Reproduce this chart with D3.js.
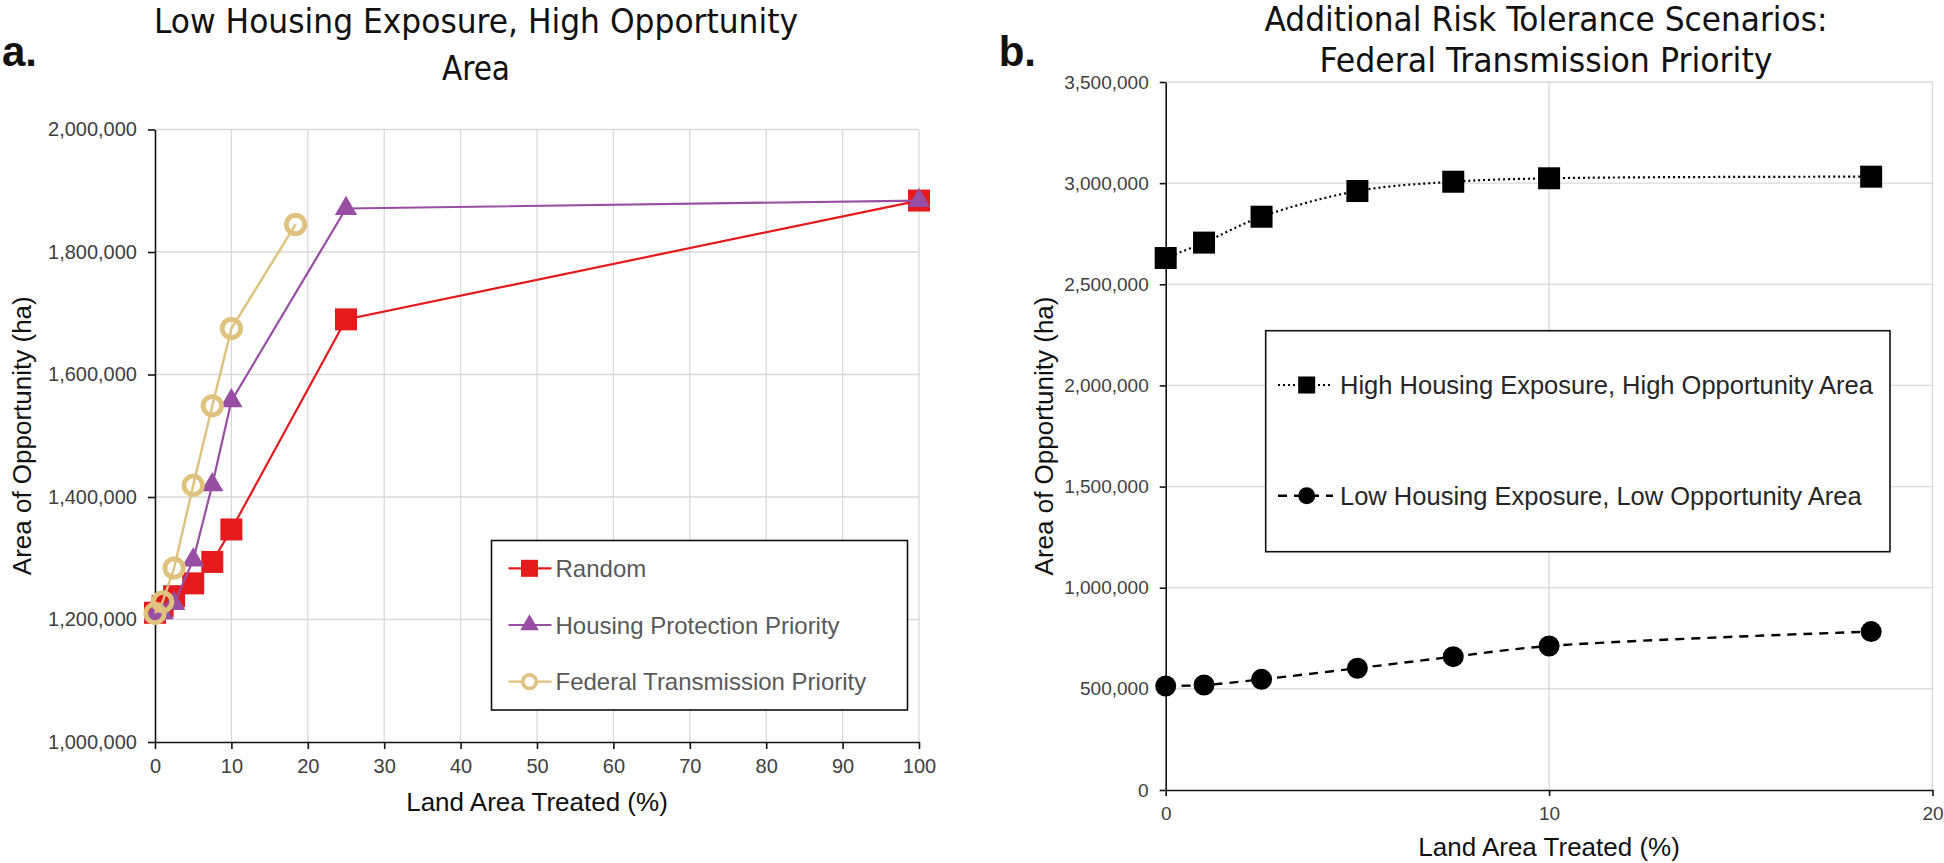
<!DOCTYPE html>
<html>
<head>
<meta charset="utf-8">
<script src="https://cdn.jsdelivr.net/npm/d3@7"></script>
<style>
  body { margin: 0; background: #fff; }
  svg { display: block; }
  text { font-family: "Liberation Sans", Arial, sans-serif; }
  .title { font-family: "Liberation Sans Narrow", "DejaVu Sans Condensed", "Open Sans", sans-serif; }
</style>
</head>
<body>
<svg id="chart" width="1944" height="863"></svg>
<script>
// ---- panel a: Low Housing Exposure, High Opportunity Area ----
const treatedA = [0, 1, 2.5, 5, 7.5, 10, 25, 100];
const randomArea = [1211000, 1222000, 1238000, 1259000, 1294000, 1347000, 1690000, 1884000];
const housingArea = [1208000, 1211000, 1226000, 1297000, 1420000, 1557000, 1871000, 1884000];
const treatedFederal = [0, 1, 2.5, 5, 7.5, 10, 18.4];
const federalArea = [1210000, 1229000, 1284000, 1419000, 1549000, 1675000, 1845000];

// ---- panel b: Federal Transmission Priority scenarios ----
const treatedB = [0, 1, 2.5, 5, 7.5, 10, 18.4];
const highHighArea = [2630000, 2706000, 2834000, 2961000, 3007000, 3024000, 3032000];
const lowLowArea = [514000, 519000, 547000, 602000, 659000, 712000, 783000];

const xTicksA = [0, 10, 20, 30, 40, 50, 60, 70, 80, 90, 100];
const yTicksA = [1000000, 1200000, 1400000, 1600000, 1800000, 2000000];
const xTicksB = [0, 10, 20];
const yTicksB = [0, 500000, 1000000, 1500000, 2000000, 2500000, 3000000, 3500000];

const legendA = ["Random", "Housing Protection Priority", "Federal Transmission Priority"];
const legendB = ["High Housing Exposure, High Opportunity Area", "Low Housing Exposure, Low Opportunity Area"];

const RED = "#e41a1c";
const PURPLE = "#984ea3";
const TAN = "#dfc27d";
const GRID = "#d9d9d9";

const svg = d3.select("#chart");
const fmt = d3.format(",");

function drawFrame(x, y, xTicks, yTicks, opts) {
  const g = svg.append("g");
  const [x0, x1] = x.range();
  const [y0, y1] = y.range();

  // gridlines
  g.selectAll(".hgrid")
    .data(yTicks.slice(1))
    .join("line")
    .attr("x1", x0).attr("x2", x1)
    .attr("y1", d => y(d)).attr("y2", d => y(d))
    .attr("stroke", GRID).attr("stroke-width", 1.3);

  g.selectAll(".vgrid")
    .data(xTicks.slice(1))
    .join("line")
    .attr("x1", d => x(d)).attr("x2", d => x(d))
    .attr("y1", y0).attr("y2", y1)
    .attr("stroke", GRID).attr("stroke-width", 1.3);

  const yAxis = g.append("g")
    .attr("transform", `translate(${x0},0)`)
    .call(d3.axisLeft(y).tickValues(yTicks).tickFormat(fmt)
      .tickSize(opts.tickSize).tickSizeOuter(0).tickPadding(opts.yPad));

  const xAxis = g.append("g")
    .attr("transform", `translate(0,${y0})`)
    .call(d3.axisBottom(x).tickValues(xTicks).tickFormat(d3.format("d"))
      .tickSize(opts.tickSize).tickSizeOuter(0).tickPadding(opts.xPad));

  [xAxis, yAxis].forEach(a => {
    a.select(".domain").attr("stroke", "#111").attr("stroke-width", 1.6);
    a.selectAll(".tick line").attr("stroke", "#111").attr("stroke-width", 1.6);
    a.selectAll(".tick text")
      .attr("fill", opts.tickColor)
      .style("font-size", opts.tickFont + "px")
      .style("font-family", '"Liberation Sans", Arial, sans-serif');
  });

  // axis titles
  svg.append("text")
    .attr("x", (x0 + x1) / 2)
    .attr("y", opts.xTitleY)
    .attr("text-anchor", "middle")
    .attr("fill", "#111")
    .style("font-size", "26px")
    .text("Land Area Treated (%)");

  svg.append("text")
    .attr("transform", `translate(${opts.yTitleX},${(y0 + y1) / 2}) rotate(-90)`)
    .attr("text-anchor", "middle")
    .attr("fill", "#111")
    .style("font-size", "26px")
    .text("Area of Opportunity (ha)");
}

function drawTitle(lines, cx, baselines, lengths) {
  lines.forEach((line, i) => {
    svg.append("text")
      .attr("class", "title")
      .attr("x", cx)
      .attr("y", baselines[i])
      .attr("text-anchor", "middle")
      .attr("textLength", lengths[i])
      .attr("lengthAdjust", "spacingAndGlyphs")
      .attr("fill", "#111")
      .style("font-size", "34px")
      .text(line);
  });
}

// ================= panel a =================
const xA = d3.scaleLinear().domain([0, 100]).range([155, 919]);
const yA = d3.scaleLinear().domain([1000000, 2000000]).range([742, 129.5]);

drawFrame(xA, yA, xTicksA, yTicksA, {
  tickSize: 7, yPad: 11, xPad: 10, tickFont: 20, tickColor: "#404040",
  xTitleY: 811, yTitleX: 31
});

drawTitle(["Low Housing Exposure, High Opportunity", "Area"], 476, [33, 80], [644, 68]);

svg.append("text")
  .attr("x", 2).attr("y", 66)
  .attr("fill", "#111")
  .style("font-size", "42px").style("font-weight", "bold")
  .text("a.");

const lineA = d3.line().x(d => xA(d[0])).y(d => yA(d[1]));
const randomPts = d3.zip(treatedA, randomArea);
const housingPts = d3.zip(treatedA, housingArea);
const federalPts = d3.zip(treatedFederal, federalArea);

const triangle = d3.symbol().type(d3.symbolTriangle);

const gA = svg.append("g");

gA.append("path").datum(randomPts).attr("d", lineA)
  .attr("fill", "none").attr("stroke", RED).attr("stroke-width", 2.2);
gA.selectAll(".sq").data(randomPts).join("rect")
  .attr("x", d => xA(d[0]) - 11).attr("y", d => yA(d[1]) - 11)
  .attr("width", 22).attr("height", 22).attr("fill", RED);

gA.append("path").datum(housingPts).attr("d", lineA)
  .attr("fill", "none").attr("stroke", PURPLE).attr("stroke-width", 2.2);
gA.selectAll(".tri").data(housingPts).join("path")
  .attr("d", triangle.size(215))
  .attr("transform", d => `translate(${xA(d[0])},${yA(d[1])})`)
  .attr("fill", PURPLE);

gA.append("path").datum(federalPts).attr("d", lineA)
  .attr("fill", "none").attr("stroke", TAN).attr("stroke-width", 2.4);
gA.selectAll(".circ").data(federalPts).join("circle")
  .attr("cx", d => xA(d[0])).attr("cy", d => yA(d[1])).attr("r", 9.2)
  .attr("fill", "none").attr("stroke", TAN).attr("stroke-width", 4.8);

// legend a
const legA = svg.append("g");
legA.append("rect")
  .attr("x", 491.5).attr("y", 540.5).attr("width", 416).attr("height", 169.5)
  .attr("fill", "#fff").attr("stroke", "#111").attr("stroke-width", 1.6);

const legAY = [568.3, 625, 681.7];
const legAColors = [RED, PURPLE, TAN];
legendA.forEach((label, i) => {
  const cy = legAY[i];
  legA.append("line")
    .attr("x1", 508.5).attr("x2", 551.5).attr("y1", cy).attr("y2", cy)
    .attr("stroke", legAColors[i]).attr("stroke-width", 2.2);
  if (i === 0) {
    legA.append("rect").attr("x", 521).attr("y", cy - 8.5)
      .attr("width", 17).attr("height", 17).attr("fill", RED);
  } else if (i === 1) {
    legA.append("path").attr("d", triangle.size(150))
      .attr("transform", `translate(529.5,${cy})`).attr("fill", PURPLE);
  } else {
    legA.append("circle").attr("cx", 529.5).attr("cy", cy).attr("r", 6.8)
      .attr("fill", "#fff").attr("stroke", TAN).attr("stroke-width", 3.6);
  }
  legA.append("text")
    .attr("x", 555.5).attr("y", cy).attr("dy", "0.36em")
    .attr("fill", "#595959")
    .style("font-size", "24px")
    .text(label);
});

// ================= panel b =================
const xB = d3.scaleLinear().domain([0, 20]).range([1165.7, 1932.5]);
const yB = d3.scaleLinear().domain([0, 3500000]).range([790, 82]);

drawFrame(xB, yB, xTicksB, yTicksB, {
  tickSize: 6, yPad: 11, xPad: 11, tickFont: 19, tickColor: "#404040",
  xTitleY: 856, yTitleX: 1053
});

drawTitle(["Additional Risk Tolerance Scenarios:", "Federal Transmission Priority"], 1546, [31, 72], [563, 453]);

svg.append("text")
  .attr("x", 1036).attr("y", 66)
  .attr("text-anchor", "end")
  .attr("fill", "#111")
  .style("font-size", "42px").style("font-weight", "bold")
  .text("b.");

const lineB = d3.line().x(d => xB(d[0])).y(d => yB(d[1])).curve(d3.curveCatmullRom.alpha(0.5));
const highPts = d3.zip(treatedB, highHighArea);
const lowPts = d3.zip(treatedB, lowLowArea);

const gB = svg.append("g");
gB.append("path").datum(highPts).attr("d", lineB)
  .attr("fill", "none").attr("stroke", "#000").attr("stroke-width", 2.2)
  .attr("stroke-dasharray", "2 3");
gB.selectAll(".sqb").data(highPts).join("rect")
  .attr("x", d => xB(d[0]) - 11).attr("y", d => yB(d[1]) - 11)
  .attr("width", 22).attr("height", 22).attr("fill", "#000");

gB.append("path").datum(lowPts).attr("d", lineB)
  .attr("fill", "none").attr("stroke", "#000").attr("stroke-width", 2.4)
  .attr("stroke-dasharray", "9 7");
gB.selectAll(".cb").data(lowPts).join("circle")
  .attr("cx", d => xB(d[0])).attr("cy", d => yB(d[1])).attr("r", 10.5)
  .attr("fill", "#000");

// legend b
const legB = svg.append("g");
legB.append("rect")
  .attr("x", 1265.7).attr("y", 330.7).attr("width", 624.3).attr("height", 221)
  .attr("fill", "#fff").attr("stroke", "#111").attr("stroke-width", 1.6);

const legBY = [385, 495.7];
legendB.forEach((label, i) => {
  const cy = legBY[i];
  legB.append("line")
    .attr("x1", 1278).attr("x2", 1333).attr("y1", cy).attr("y2", cy)
    .attr("stroke", "#000")
    .attr("stroke-width", i === 0 ? 2.2 : 2.4)
    .attr("stroke-dasharray", i === 0 ? "2 3" : "9 7");
  if (i === 0) {
    legB.append("rect").attr("x", 1298.2).attr("y", cy - 8.5)
      .attr("width", 17).attr("height", 17).attr("fill", "#000");
  } else {
    legB.append("circle").attr("cx", 1306.7).attr("cy", cy).attr("r", 8.5).attr("fill", "#000");
  }
  legB.append("text")
    .attr("x", 1340).attr("y", cy).attr("dy", "0.36em")
    .attr("fill", "#262626")
    .style("font-size", "25.5px")
    .text(label);
});
</script>
</body>
</html>
